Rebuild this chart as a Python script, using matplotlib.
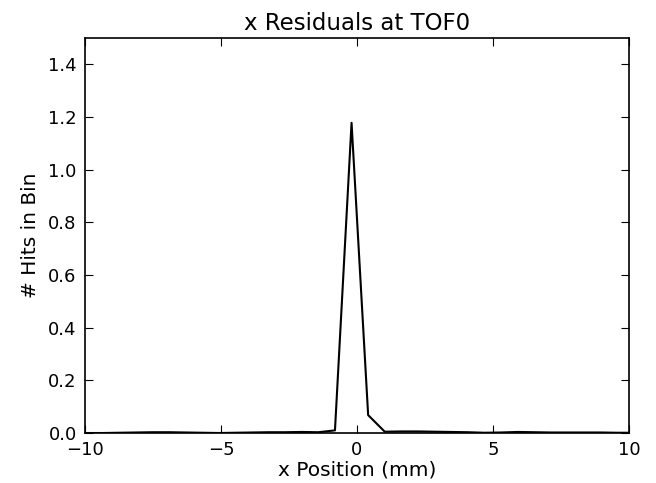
import matplotlib
matplotlib.use('Agg')
import matplotlib.pyplot as plt
import numpy as np

# bin centres (mm) and hits per bin
x_pos = [-9.96, -9.35, -8.74, -8.13, -7.52, -6.91, -6.30, -5.69, -5.08, -4.47,
         -3.86, -3.25, -2.64, -2.03, -1.42, -0.81, -0.20, 0.41, 1.02, 1.63,
         2.24, 2.85, 3.46, 4.07, 4.68, 5.29, 5.90, 6.51, 7.12, 7.73,
         8.34, 8.95, 9.56, 10.17]
hits = [0.0, 0.0, 0.001, 0.002, 0.003, 0.003, 0.002, 0.001, 0.0, 0.001,
        0.002, 0.003, 0.003, 0.004, 0.003, 0.01, 1.178, 0.068, 0.005, 0.006,
        0.006, 0.005, 0.004, 0.003, 0.001, 0.002, 0.004, 0.003, 0.002, 0.002,
        0.002, 0.002, 0.001, 0.001]

fig = plt.figure(figsize=(6.56, 4.83), dpi=100)
ax = fig.add_axes([0.1296, 0.1035, 0.8292, 0.8178])
ax.plot(x_pos, hits, color='black', linewidth=1.5)

ax.set_xlim(-10, 10)
ax.set_ylim(0, 1.5)
ax.set_xticks([-10, -5, 0, 5, 10])
ax.set_yticks([0.0, 0.2, 0.4, 0.6, 0.8, 1.0, 1.2, 1.4])
ax.yaxis.set_major_formatter(matplotlib.ticker.FormatStrFormatter('%.1f'))
ax.tick_params(direction='in', length=6, width=0.8, top=True, right=True,
               labelsize=13, pad=6)
for s in ax.spines.values():
    s.set_linewidth(1.2)

ax.set_title('x Residuals at TOF0', fontsize=16.5, pad=6)
ax.set_xlabel('x Position (mm)', fontsize=14.5, labelpad=1)
ax.set_ylabel('# Hits in Bin', fontsize=14.5, labelpad=6)

fig.savefig('out.png', dpi=100)
